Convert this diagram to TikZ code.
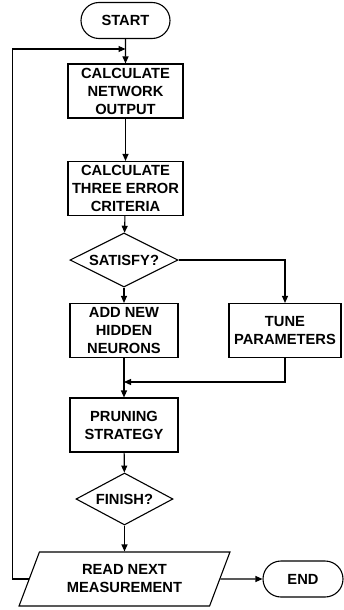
\documentclass[tikz,border=0pt]{standalone}
\usepackage{fontspec}
\setmainfont{Liberation Sans}
\usetikzlibrary{shapes.geometric,shapes.misc,arrows.meta}

\begin{document}
\begin{tikzpicture}[x=1pt,y=-1pt,line width=1.1pt,
    >={Triangle[length=7pt,width=6pt]},
    every node/.style={draw,font=\fontsize{14.7}{18}\selectfont\bfseries,
      align=center,inner sep=0pt},
    term/.style={rounded rectangle,minimum height=36pt},
    box/.style={rectangle,minimum width=108pt,minimum height=54pt},
    test/.style={diamond,aspect=2,minimum height=54pt}]
      \useasboundingbox (0,0) rectangle (344,610);
      % main column
      \node[term,minimum width=89pt] (start) at (125.5,20.5) {START};
      \node[box,minimum width=115pt] (calcout) at (125.5,91) {CALCULATE\\NETWORK\\OUTPUT};
      \node[box,minimum width=115pt] (calcerr) at (125.5,188.5) {CALCULATE\\THREE ERROR\\CRITERIA};
      \node[test,minimum width=108pt] (satisfy) at (124,260) {SATISFY?};
      \node[box] (addnew) at (124,330.5) {ADD NEW\\HIDDEN\\NEURONS};
      \node[box,minimum width=112pt] (tune) at (285,330.5) {TUNE\\PARAMETERS};
      \node[box] (pruning) at (124,425) {PRUNING\\STRATEGY};
      \node[test,minimum width=97pt,minimum height=52pt] (finish) at (124.5,499) {FINISH?};
      \node[trapezium,trapezium left angle=64,trapezium right angle=116,
        trapezium stretches=true,minimum width=211pt,minimum height=54pt]
        (readnext) at (124.5,579) {READ NEXT\\MEASUREMENT};
      \node[term,minimum width=80pt] (end) at (303,579) {END};
      \coordinate (loop) at (125.5,49);
      \coordinate (merge) at (124,382);
      % connectors
      \draw[->] (start) -- (calcout);
      \draw[->] (calcout) -- (calcerr);
      \draw[->] (calcerr) -- (satisfy);
      \draw[->] (satisfy) -- (addnew);
      \draw[->] (satisfy.east) -| (tune.north);
      \draw[->] (addnew) -- (pruning);
      \draw[->] (tune.south) |- (merge);
      \draw[->] (pruning) -- (finish);
      \draw[->] (finish) -- (readnext);
      \draw[->] (readnext.east) -- (end.west);
      % routine for the loop back
      \draw[->] (readnext.west) -- ++(-16,0) |- (loop);
    \end{tikzpicture}
\end{document}
